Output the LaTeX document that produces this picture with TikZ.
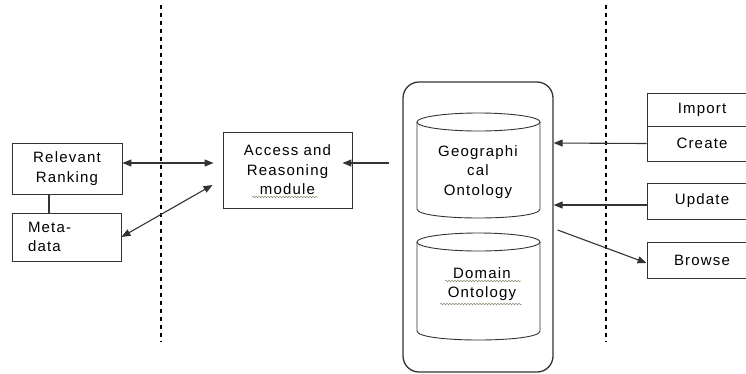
\documentclass[tikz,border=0pt]{standalone}
\usepackage{fontspec}
\setmainfont{Liberation Sans}[LetterSpace=8]
\usetikzlibrary{arrows.meta,decorations.pathmorphing}
\definecolor{ln}{HTML}{333333}
\definecolor{wav}{HTML}{8A8A70}
\tikzset{
  box/.style={draw=ln, line width=0.9pt, inner sep=0pt, align=center, font=\fontsize{15pt}{19.5pt}\selectfont},
  txt/.style={inner sep=0pt, align=center, font=\fontsize{15pt}{19.5pt}\selectfont},
  arr/.style={draw=ln, line width=1.1pt, -{Triangle[length=9pt,width=7pt]}},
  darr/.style={draw=ln, line width=1.1pt, {Triangle[length=9pt,width=7pt]}-{Triangle[length=9pt,width=7pt]}},
  sep/.style={draw=black, line width=1.2pt, dash pattern=on 4pt off 4pt},
  cyl/.style={draw=ln, line width=0.9pt},
  wavy/.style={draw=wav, line width=0.5pt, decorate, decoration={snake, amplitude=0.8pt, segment length=3pt}}
}
\begin{document}
\begin{tikzpicture}[x=1pt,y=-1pt]
\useasboundingbox[fill=white] (0,0) rectangle (746,373);

% separators
\coordinate (s1t) at (161,5);  \coordinate (s1b) at (161,342);
\coordinate (s2t) at (606,5);  \coordinate (s2b) at (606,342);
\draw[sep] (s1t) -- (s1b);
\draw[sep] (s2t) -- (s2b);

% left boxes
\node[box, minimum width=110pt, minimum height=51pt] (rr) at (67,168.5) {Relevant\\Ranking};
\node[box, minimum width=109pt, minimum height=48pt, text width=93pt, align=left, inner xsep=0pt] (md) at (66.5,237) {\hspace*{8pt}Meta-\\\hspace*{8pt}data};
\draw[ln, line width=2pt] ([xshift=-18pt]rr.south) -- ([xshift=-17.5pt]md.north);

% access module
\node[box, minimum width=129pt, minimum height=76pt] (acc) at (287.5,170) {Access and\\Reasoning\\module};
\coordinate (w1a) at (252,197); \coordinate (w1b) at (318,197);
\draw[wavy] (w1a) -- (w1b);

% container
\node[draw=ln, line width=1.3pt, rounded corners=16pt, minimum width=150pt, minimum height=290pt, inner sep=0pt] (cont) at (478,227) {};

% cylinder 1
\draw[cyl] (417,122) -- (417,209) .. controls (417,221) and (540,221) .. (540,209) -- (540,122);
\draw[cyl] (478.5,122) circle[x radius=61.5pt, y radius=9pt];
\node[txt] (geo) at (478,172) {Geographi\\cal\\Ontology};

% cylinder 2
\draw[cyl] (417,242) -- (417,331) .. controls (417,343) and (540,343) .. (540,331) -- (540,242);
\draw[cyl] (478.5,242) circle[x radius=61.5pt, y radius=9pt];
\node[txt] (dom) at (482,284) {Domain\\Ontology};
\coordinate (w2a) at (445,281); \coordinate (w2b) at (521,281);
\coordinate (w3a) at (440,304); \coordinate (w3b) at (522,304);
\draw[wavy] (w2a) -- (w2b);
\draw[wavy] (w3a) -- (w3b);

% right boxes
\node[box, minimum width=110pt, minimum height=33pt] (im) at (702,109.5) {Import};
\node[box, minimum width=110pt, minimum height=35pt] (cr) at (702,143.5) {Create};
\node[box, minimum width=110pt, minimum height=36pt] (up) at (702,201) {Update};
\node[box, minimum width=110pt, minimum height=36pt] (br) at (702,260) {Browse};

% connectors
\draw[darr, shorten >=9pt] ([yshift=5.5pt]rr.east) -- ([yshift=7pt]acc.west);
\draw[darr] (md.east) -- ([xshift=-10pt,yshift=-15pt]acc.west);
\draw[arr] ([xshift=-13pt,yshift=64pt]cont.west) -- ([xshift=-10pt,yshift=7pt]acc.east);
\draw[arr] (cr.west) -- ([yshift=84pt]cont.east);
\draw[arr] ([yshift=-4pt]up.west) -- ([yshift=22pt]cont.east);
\draw[arr] ([xshift=4pt,yshift=-3pt]cont.east) -- ([yshift=-3pt]br.west);
\end{tikzpicture}
\end{document}
